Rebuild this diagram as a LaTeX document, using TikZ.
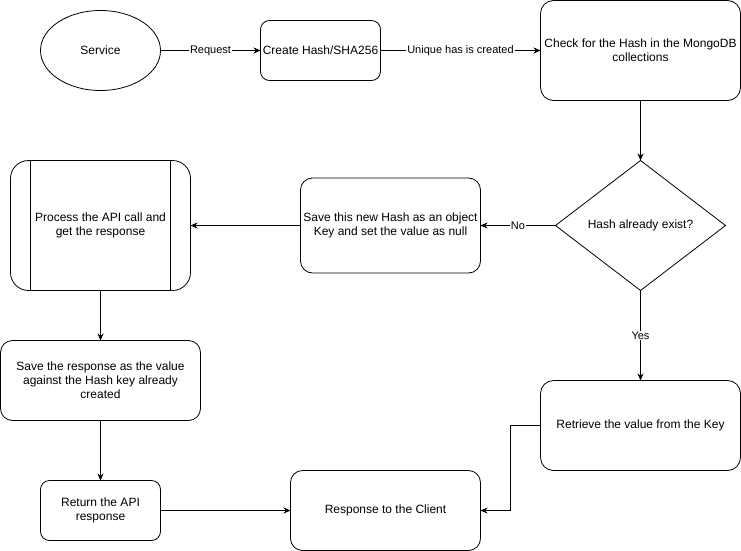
\documentclass[tikz,border=0pt]{standalone}
\usepackage{fontspec}
\setmainfont{Liberation Sans}
\usetikzlibrary{positioning,shapes.geometric,arrows.meta}

\begin{document}
\begin{tikzpicture}[node distance=60pt, thick, >={Stealth[length=7pt,width=6pt]},
        every node/.style={outer sep=0pt},
        box/.style={rectangle, draw, rounded corners=9pt, align=center, inner sep=0pt, font=\fontsize{12}{14}\selectfont},
        lbl/.style={fill=white, inner sep=1pt, font=\fontsize{11}{13}\selectfont}]
        % Frame of the picture
        \useasboundingbox (-0.5pt,0.5pt) rectangle (740.5pt,-550.5pt);
        % Nodes in the top row
        \node[ellipse, draw, minimum width=120pt, minimum height=80pt, inner sep=0pt, font=\fontsize{12}{14}\selectfont] (srv) at (100pt,-50pt) {Service};
        \node[box, minimum width=120pt, minimum height=60pt, right=100pt of srv] (hash) {Create Hash/SHA256};
        \node[box, rounded corners=13pt, minimum width=200pt, minimum height=100pt, right=160pt of hash] (check) {Check for the Hash in the MongoDB\\collections};
        % Decision and the No branch
        \node[diamond, draw, minimum width=170pt, minimum height=130pt, inner sep=0pt, font=\fontsize{12}{14}\selectfont, below=of check] (exist) {Hash already exist?};
        \node[box, rounded corners=12pt, minimum width=180pt, minimum height=95pt, left=75pt of exist] (newkey) {Save this new Hash as an object\\Key and set the value as null};
        \node[box, rounded corners=18pt, minimum width=180pt, minimum height=130pt, left=110pt of newkey] (proc) {Process the API call and\\get the response};
        \draw ([xshift=20pt]proc.north west) -- ([xshift=20pt]proc.south west);
        \draw ([xshift=-20pt]proc.north east) -- ([xshift=-20pt]proc.south east);
        \node[box, rounded corners=12pt, minimum width=200pt, minimum height=80pt, below=50pt of proc] (saveresp) {Save the response as the value\\against the Hash key already\\created};
        \node[box, minimum width=120pt, minimum height=60pt, below=of saveresp] (ret) {Return the API\\response};
        % Yes branch and the answer
        \node[box, rounded corners=13pt, minimum width=200pt, minimum height=90pt, below=90pt of exist] (retrieve) {Retrieve the value from the Key};
        \node[box, rounded corners=12pt, minimum width=190pt, minimum height=80pt, right=130pt of ret] (client) {Response to the Client};
        % Edges
        \draw[->] (srv) -- node[lbl] {Request} (hash);
        \draw[->] (hash) -- node[lbl] {Unique has is created} (check);
        \draw[->] (check) -- (exist);
        \draw[->] (exist) -- node[lbl] {No} (newkey);
        \draw[->] (newkey) -- (proc);
        \draw[->] (proc) -- (saveresp);
        \draw[->] (saveresp) -- (ret);
        \draw[->] (ret) -- (client);
        \draw[->] (exist) -- node[lbl] {Yes} (retrieve);
        \draw[->] (retrieve.west) -- ++(-30pt,0) |- (client.east);
        \end{tikzpicture}
\end{document}
